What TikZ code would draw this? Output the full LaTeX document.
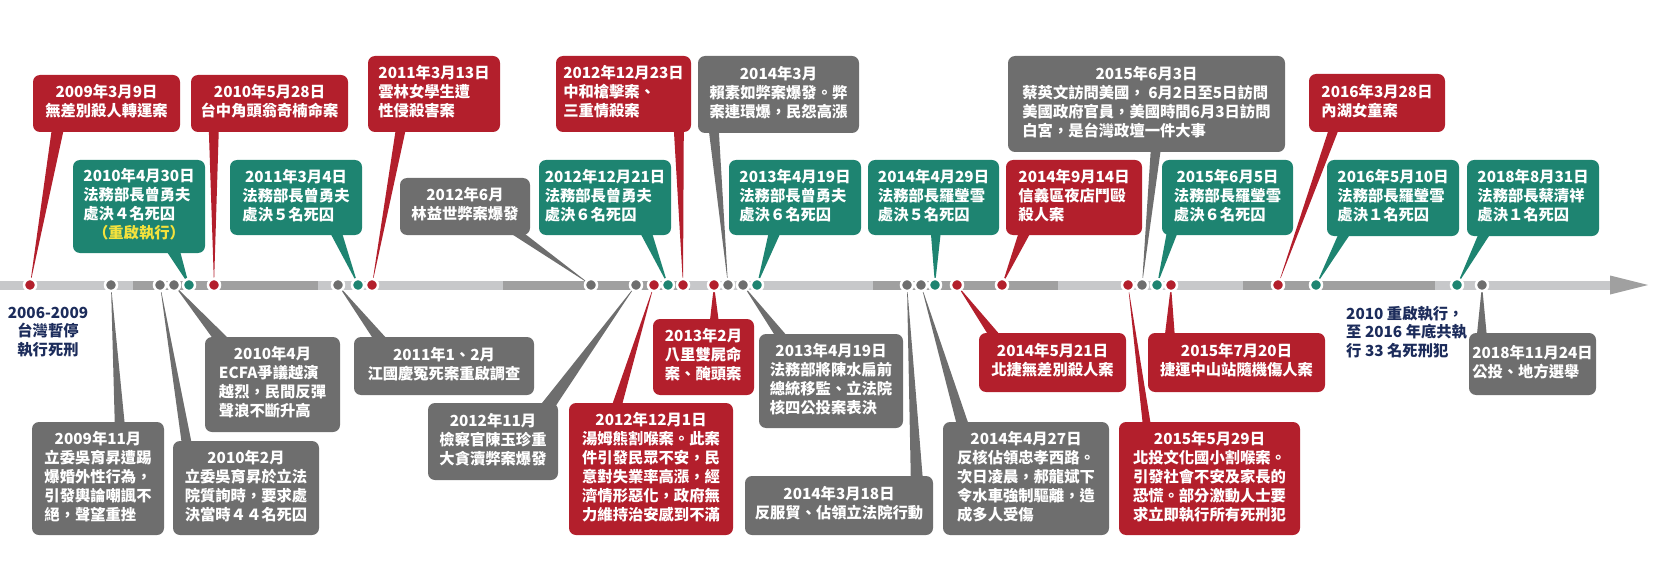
\documentclass[tikz,border=0pt]{standalone}
\usepackage{fontspec}
\setmainfont{Noto Sans CJK TC}
\usetikzlibrary{calc}
\definecolor{cred}{HTML}{B31F2C}
\definecolor{cteal}{HTML}{1E8471}
\definecolor{cgray}{HTML}{6E6E6E}
\definecolor{cnavy}{HTML}{1C2C5B}
\definecolor{cyellow}{HTML}{F5E23C}
\definecolor{barlight}{HTML}{C7C8CA}
\definecolor{bardark}{HTML}{A0A0A0}
\pgfdeclarelayer{background}
\pgfsetlayers{background,main}
\tikzstyle{box}=[rounded corners=7pt, inner sep=0pt, text=white,
font=\fontsize{15.3}{19}\selectfont\bfseries]
\tikzstyle{dot}=[circle, inner sep=0pt, minimum size=12pt, draw=white, line width=2.5pt]
\tikzstyle{note}=[inner sep=0pt, text=cnavy, font=\fontsize{15.3}{18.5}\selectfont\bfseries]
\newcommand{\ev}[2]{\begin{tabular}{@{}l@{}}\multicolumn{1}{@{}c@{}}{#1}\\#2\end{tabular}}

\begin{document}
\begin{tikzpicture}[x=1pt, y=-1pt]
    \useasboundingbox (0,0) rectangle (1656,580);

    % timeline
    \begin{pgfonlayer}{background}
    \fill[barlight] (0,280.5) rectangle (133,289.5);
    \fill[bardark] (133,280.5) rectangle (318,289.5);
    \fill[barlight] (318,280.5) rectangle (503,289.5);
    \fill[bardark] (503,280.5) rectangle (690,289.5);
    \fill[barlight] (690,280.5) rectangle (873,289.5);
    \fill[bardark] (873,280.5) rectangle (1058,289.5);
    \fill[barlight] (1058,280.5) rectangle (1243,289.5);
    \fill[bardark] (1243,280.5) rectangle (1435,289.5);
    \fill[barlight] (1435,280.5) rectangle (1610,289.5);
    \fill[bardark] (1610,275.5) -- (1648,285) -- (1610,294.5) -- cycle;
    \end{pgfonlayer}

    % dots
    \node[dot, fill=cred] (d1) at (30,285) {};
    \node[dot, fill=cgray] (d2) at (111,285) {};
    \node[dot, fill=cgray] (d3) at (160,285) {};
    \node[dot, fill=cgray] (d4) at (174,285) {};
    \node[dot, fill=cteal] (d5) at (189,285) {};
    \node[dot, fill=cred] (d6) at (214,285) {};
    \node[dot, fill=cgray] (d7) at (338,285) {};
    \node[dot, fill=cteal] (d8) at (358,285) {};
    \node[dot, fill=cred] (d9) at (372,285) {};
    \node[dot, fill=cgray] (d10) at (591,285) {};
    \node[dot, fill=cgray] (d11) at (636,285) {};
    \node[dot, fill=cred] (d12) at (654,285) {};
    \node[dot, fill=cteal] (d13) at (668,285) {};
    \node[dot, fill=cred] (d14) at (683,285) {};
    \node[dot, fill=cred] (d15) at (714,285) {};
    \node[dot, fill=cgray] (d16) at (728,285) {};
    \node[dot, fill=cgray] (d17) at (743,285) {};
    \node[dot, fill=cteal] (d18) at (757,285) {};
    \node[dot, fill=cgray] (d19) at (907,285) {};
    \node[dot, fill=cgray] (d20) at (921,285) {};
    \node[dot, fill=cteal] (d21) at (935,285) {};
    \node[dot, fill=cred] (d22) at (957,285) {};
    \node[dot, fill=cred] (d23) at (1002,285) {};
    \node[dot, fill=cred] (d24) at (1128,285) {};
    \node[dot, fill=cgray] (d25) at (1142,285) {};
    \node[dot, fill=cteal] (d26) at (1157,285) {};
    \node[dot, fill=cred] (d27) at (1171,285) {};
    \node[dot, fill=cred] (d28) at (1278,285) {};
    \node[dot, fill=cteal] (d29) at (1316,285) {};
    \node[dot, fill=cteal] (d30) at (1457,285) {};
    \node[dot, fill=cgray] (d31) at (1482,285) {};

    % boxes above the line
    \node[box, fill=cred, minimum width=147pt, minimum height=57pt] (b1) at (106.5,103.5)
        {\ev{2009年3月9日}{無差別殺人轉運案}};
    \node[box, fill=cred, minimum width=157pt, minimum height=57pt] (b2) at (269.5,103.5)
        {\ev{2010年5月28日}{台中角頭翁奇楠命案}};
    \node[box, fill=cred, minimum width=132pt, minimum height=76pt] (b3) at (434,94)
        {\ev{2011年3月13日}{雲林女學生遭\\性侵殺害案}};
    \node[box, fill=cred, minimum width=135pt, minimum height=76pt] (b4) at (623.5,94)
        {\ev{2012年12月23日}{中和槍擊案、\\三重情殺案}};
    \node[box, fill=cgray, minimum width=161pt, minimum height=77pt] (b5) at (778.5,94.5)
        {\ev{2014年3月}{賴素如弊案爆發。弊\\案連環爆，民怨高漲}};
    \node[box, fill=cgray, minimum width=277pt, minimum height=96pt] (b6) at (1146.5,104)
        {\ev{2015年6月3日}{蔡英文訪問美國， 6月2日至5日訪問\\美國政府官員，美國時間6月3日訪問\\白宮，是台灣政壇一件大事}};
    \node[box, fill=cred, minimum width=136pt, minimum height=58pt] (b7) at (1377,103)
        {\ev{2016年3月28日}{內湖女童案}};
    \node[box, fill=cteal, minimum width=132pt, minimum height=93pt] (b8) at (139,206.5)
        {\ev{2010年4月30日}{法務部長曾勇夫\\處決４名死囚\\\multicolumn{1}{@{}c@{}}{\color{cyellow}（重啟執行）}}};
    \node[box, fill=cteal, minimum width=132pt, minimum height=75pt] (b9) at (296,197.5)
        {\ev{2011年3月4日}{法務部長曾勇夫\\處決５名死囚}};
    \node[box, fill=cgray, minimum width=130pt, minimum height=57pt] (b10) at (465,206.5)
        {\ev{2012年6月}{林益世弊案爆發}};
    \node[box, fill=cteal, minimum width=132pt, minimum height=75pt] (b11) at (605,197.5)
        {\ev{2012年12月21日}{法務部長曾勇夫\\處決６名死囚}};
    \node[box, fill=cteal, minimum width=132pt, minimum height=75pt] (b12) at (795,197.5)
        {\ev{2013年4月19日}{法務部長曾勇夫\\處決６名死囚}};
    \node[box, fill=cteal, minimum width=131pt, minimum height=75pt] (b13) at (933.5,197.5)
        {\ev{2014年4月29日}{法務部長羅瑩雪\\處決５名死囚}};
    \node[box, fill=cred, minimum width=136pt, minimum height=75pt] (b14) at (1074,197.5)
        {\ev{2014年9月14日}{信義區夜店鬥毆\\殺人案}};
    \node[box, fill=cteal, minimum width=131pt, minimum height=75pt] (b15) at (1227.5,197.5)
        {\ev{2015年6月5日}{法務部長羅瑩雪\\處決６名死囚}};
    \node[box, fill=cteal, minimum width=132pt, minimum height=76pt] (b16) at (1393,198)
        {\ev{2016年5月10日}{法務部長羅瑩雪\\處決１名死囚}};
    \node[box, fill=cteal, minimum width=132pt, minimum height=76pt] (b17) at (1533,198)
        {\ev{2018年8月31日}{法務部長蔡清祥\\處決１名死囚}};

    % boxes below the line
    \node[box, fill=cgray, minimum width=132pt, minimum height=113pt] (b18) at (98,478.5)
        {\ev{2009年11月}{立委吳育昇遭踢\\爆婚外性行為，\\引發輿論嘲諷不\\絕，聲望重挫}};
    \node[box, fill=cgray, minimum width=146pt, minimum height=94pt] (b19) at (246,488)
        {\ev{2010年2月}{立委吳育昇於立法\\院質詢時，要求處\\決當時４４名死囚}};
    \node[box, fill=cgray, minimum width=135pt, minimum height=95pt] (b20) at (272.5,384.5)
        {\ev{2010年4月}{ECFA爭議越演\\越烈，民間反彈\\聲浪不斷升高}};
    \node[box, fill=cgray, minimum width=180pt, minimum height=58pt] (b21) at (444,366)
        {\ev{2011年1、2月}{江國慶冤死案重啟調查}};
    \node[box, fill=cgray, minimum width=130pt, minimum height=77pt] (b22) at (493,441.5)
        {\ev{2012年11月}{檢察官陳玉珍重\\大貪瀆弊案爆發}};
    \node[box, fill=cred, minimum width=164pt, minimum height=132pt] (b23) at (651,469)
        {\ev{2012年12月1日}{湯姆熊割喉案。此案\\件引發民眾不安，民\\意對失業率高漲，經\\濟情形惡化，政府無\\力維持治安感到不滿}};
    \node[box, fill=cred, minimum width=101pt, minimum height=76pt] (b24) at (703.5,357)
        {\ev{2013年2月}{八里雙屍命\\案、醃頭案}};
    \node[box, fill=cgray, minimum width=144pt, minimum height=94pt] (b25) at (831,381)
        {\ev{2013年4月19日}{法務部將陳水扁前\\總統移監、立法院\\核四公投案表決}};
    \node[box, fill=cgray, minimum width=188pt, minimum height=59pt] (b26) at (839,505.5)
        {\ev{2014年3月18日}{反服貿、佔領立法院行動}};
    \node[box, fill=cgray, minimum width=166pt, minimum height=113pt] (b27) at (1026,478.5)
        {\ev{2014年4月27日}{反核佔領忠孝西路。\\次日凌晨，郝龍斌下\\令水車強制驅離，造\\成多人受傷}};
    \node[box, fill=cred, minimum width=147pt, minimum height=59pt] (b28) at (1052.5,362.5)
        {\ev{2014年5月21日}{北捷無差別殺人案}};
    \node[box, fill=cred, minimum width=181pt, minimum height=113pt] (b29) at (1209.5,478.5)
        {\ev{2015年5月29日}{北投文化國小割喉案。\\引發社會不安及家長的\\恐慌。部分激動人士要\\求立即執行所有死刑犯}};
    \node[box, fill=cred, minimum width=177pt, minimum height=59pt] (b30) at (1236.5,362.5)
        {\ev{2015年7月20日}{捷運中山站隨機傷人案}};
    \node[box, fill=cgray, minimum width=127pt, minimum height=62pt] (b31) at (1532.5,364)
        {\ev{2018年11月24日}{公投、地方選舉}};

    % side notes
    \node[note, align=center] (n1) at (48,332) {2006-2009\\台灣暫停\\執行死刑};
    \node[note, align=left, anchor=west] (n2) at (1346,332)
        {2010 重啟執行，\\至 2016 年底共執\\行 33 名死刑犯};

    % pointers
    \begin{pgfonlayer}{background}
    \fill[cred] ($(b1.south west)+(19,-3)$) -- ($(b1.south west)+(31,-3)$) -- (d1.center) -- cycle;
    \fill[cred] ($(b2.south west)+(18,-3)$) -- ($(b2.south west)+(28,-3)$) -- (d6.center) -- cycle;
    \fill[cred] ($(b3.south west)+(28,-3)$) -- ($(b3.south west)+(38,-3)$) -- (d9.center) -- cycle;
    \fill[cred] ($(b4.south west)+(118,-3)$) -- ($(b4.south west)+(128,-3)$) -- (d14.center) -- cycle;
    \fill[cgray] ($(b5.south west)+(11,-3)$) -- ($(b5.south west)+(21,-3)$) -- (d16.center) -- cycle;
    \fill[cgray] ($(b6.south west)+(143,-3)$) -- ($(b6.south west)+(153,-3)$) -- (d25.center) -- cycle;
    \fill[cred] ($(b7.south west)+(20,-3)$) -- ($(b7.south west)+(30,-3)$) -- (d28.center) -- cycle;
    \fill[cteal] ($(b8.south west)+(93,-3)$) -- ($(b8.south west)+(107,-3)$) -- (d5.center) -- cycle;
    \fill[cteal] ($(b9.south west)+(100,-3)$) -- ($(b9.south west)+(112,-3)$) -- (d8.center) -- cycle;
    \fill[cgray] ($(b10.south west)+(109,-3)$) -- ($(b10.south west)+(123,-3)$) -- (d10.center) -- cycle;
    \fill[cteal] ($(b11.south west)+(101,-3)$) -- ($(b11.south west)+(113,-3)$) -- (d13.center) -- cycle;
    \fill[cteal] ($(b12.south west)+(40,-3)$) -- ($(b12.south west)+(52,-3)$) -- (d18.center) -- cycle;
    \fill[cteal] ($(b13.south west)+(63,-3)$) -- ($(b13.south west)+(73,-3)$) -- (d21.center) -- cycle;
    \fill[cred] ($(b14.south west)+(13,-3)$) -- ($(b14.south west)+(25,-3)$) -- (d23.center) -- cycle;
    \fill[cteal] ($(b15.south west)+(5,-3)$) -- ($(b15.south west)+(16,-3)$) -- (d26.center) -- cycle;
    \fill[cteal] ($(b16.south west)+(12,-3)$) -- ($(b16.south west)+(24,-3)$) -- (d29.center) -- cycle;
    \fill[cteal] ($(b17.south west)+(12,-3)$) -- ($(b17.south west)+(24,-3)$) -- (d30.center) -- cycle;
    \fill[cgray] ($(b18.north west)+(83,3)$) -- ($(b18.north west)+(93,3)$) -- (d2.center) -- cycle;
    \fill[cgray] ($(b19.north west)+(9,3)$) -- ($(b19.north west)+(19,3)$) -- (d3.center) -- cycle;
    \fill[cgray] ($(b20.north west)+(9,3)$) -- ($(b20.north west)+(25,3)$) -- (d4.center) -- cycle;
    \fill[cgray] ($(b21.north west)+(20,3)$) -- ($(b21.north west)+(34,3)$) -- (d7.center) -- cycle;
    \fill[cgray] ($(b22.north west)+(112,3)$) -- ($(b22.north west)+(128,3)$) -- (d11.center) -- cycle;
    \fill[cred] ($(b23.north west)+(43,3)$) -- ($(b23.north west)+(53,3)$) -- (d12.center) -- cycle;
    \fill[cred] ($(b24.north west)+(57,3)$) -- ($(b24.north west)+(66,3)$) -- (d15.center) -- cycle;
    \fill[cgray] ($(b25.north west)+(17,3)$) -- ($(b25.north west)+(29,3)$) -- (d17.center) -- cycle;
    \fill[cgray] ($(b26.north west)+(166,3)$) -- ($(b26.north west)+(178,3)$) -- (d19.center) -- cycle;
    \fill[cgray] ($(b27.north west)+(14,3)$) -- ($(b27.north west)+(26,3)$) -- (d20.center) -- cycle;
    \fill[cred] ($(b28.north west)+(10,3)$) -- ($(b28.north west)+(22,3)$) -- (d22.center) -- cycle;
    \fill[cred] ($(b29.north west)+(24,3)$) -- ($(b29.north west)+(32,3)$) -- (d24.center) -- cycle;
    \fill[cred] ($(b30.north west)+(17,3)$) -- ($(b30.north west)+(27,3)$) -- (d27.center) -- cycle;
    \fill[cgray] ($(b31.north west)+(8,3)$) -- ($(b31.north west)+(18,3)$) -- (d31.center) -- cycle;
    \end{pgfonlayer}
\end{tikzpicture}
\end{document}
